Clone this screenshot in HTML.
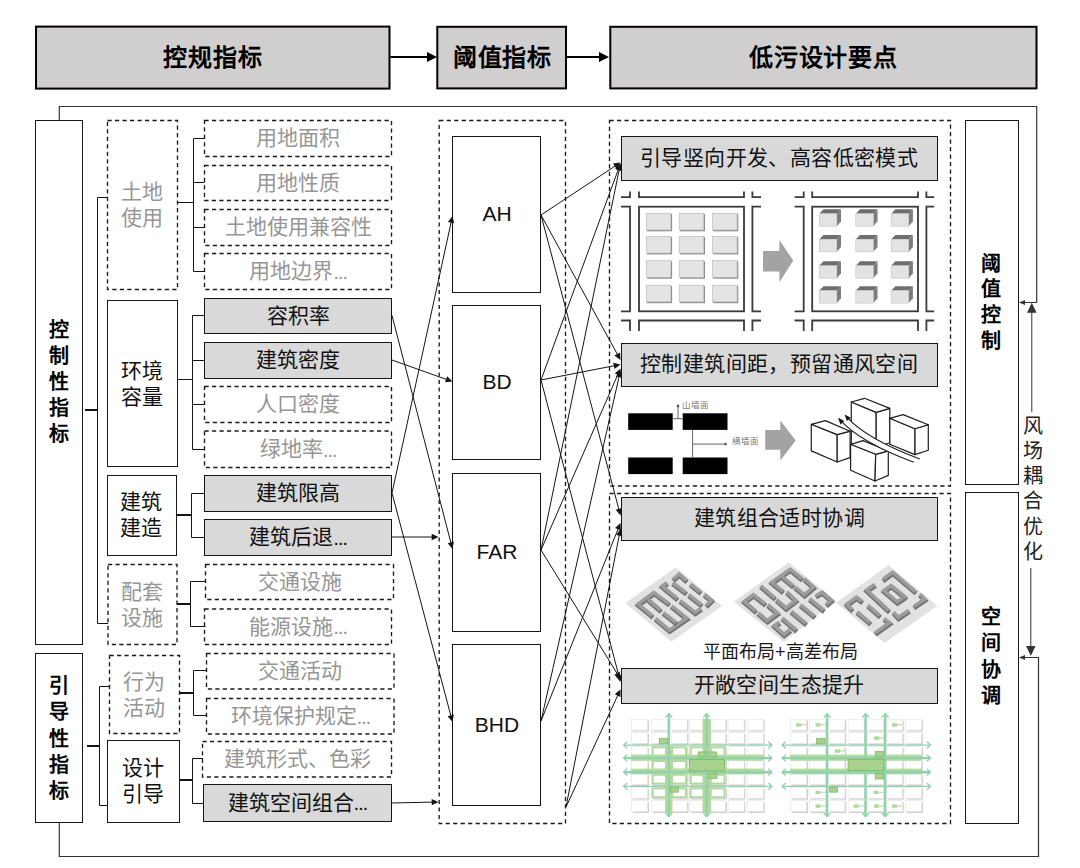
<!DOCTYPE html>
<html lang="zh-CN"><head><meta charset="utf-8"><title>diagram</title>
<style>
html,body{margin:0;padding:0;background:#fff;}
svg{display:block;font-family:'Liberation Sans', sans-serif;}
</style></head><body>
<svg width="1080" height="868" viewBox="0 0 1080 868">
<rect x="0" y="0" width="1080" height="868" fill="#fff"/>

<rect x="36" y="26.6" width="353.50" height="62.00" fill="#d0cece" stroke="#000" stroke-width="2" />
<rect x="437.3" y="26.8" width="128.70" height="61.60" fill="#d0cece" stroke="#000" stroke-width="2" />
<rect x="610.3" y="26.8" width="426.20" height="61.60" fill="#d0cece" stroke="#000" stroke-width="2" />
<line x1="390.5" y1="57" x2="428.00" y2="57.00" stroke="#000" stroke-width="2"/><polygon points="437,57 427.00,62.00 427.00,52.00" fill="#000"/>
<line x1="567" y1="57" x2="600.00" y2="57.00" stroke="#000" stroke-width="2"/><polygon points="609,57 599.00,62.00 599.00,52.00" fill="#000"/>
<text x="212.9" y="57" font-size="24" fill="#000" font-weight="bold" text-anchor="middle" dominant-baseline="central" letter-spacing="0.8">控规指标</text>
<text x="502.4" y="57" font-size="24" fill="#000" font-weight="bold" text-anchor="middle" dominant-baseline="central" letter-spacing="0.8">阈值指标</text>
<text x="823.4" y="57" font-size="24" fill="#000" font-weight="bold" text-anchor="middle" dominant-baseline="central" letter-spacing="0.8">低污设计要点</text>
<path d="M59.3,120.5 V106.5 H1036.7 V302.5 H1024" stroke="#333" stroke-width="1.2" fill="none" />
<line x1="1030" y1="302.5" x2="1024.00" y2="302.50" stroke="#333" stroke-width="1"/><polygon points="1019,302.5 1025.00,300.00 1025.00,305.00" fill="#333"/>
<path d="M59.3,822 V856.5 H1038.5 V657.5 H1024" stroke="#333" stroke-width="1.2" fill="none" />
<line x1="1030" y1="657.5" x2="1024.00" y2="657.50" stroke="#333" stroke-width="1"/><polygon points="1019,657.5 1025.00,655.00 1025.00,660.00" fill="#333"/>
<line x1="1031.8" y1="412" x2="1031.80" y2="311.80" stroke="#333" stroke-width="1"/><polygon points="1031.8,302.8 1036.55,312.80 1027.05,312.80" fill="#333"/>
<line x1="1030.8" y1="568" x2="1030.80" y2="647.00" stroke="#333" stroke-width="1"/><polygon points="1030.8,656 1026.05,646.00 1035.55,646.00" fill="#333"/>
<text x="1032.8" y="425.5" font-size="20" fill="#222" font-weight="normal" text-anchor="middle" dominant-baseline="central" >风</text>
<text x="1032.8" y="450.8" font-size="20" fill="#222" font-weight="normal" text-anchor="middle" dominant-baseline="central" >场</text>
<text x="1032.8" y="476.1" font-size="20" fill="#222" font-weight="normal" text-anchor="middle" dominant-baseline="central" >耦</text>
<text x="1032.8" y="501.4" font-size="20" fill="#222" font-weight="normal" text-anchor="middle" dominant-baseline="central" >合</text>
<text x="1032.8" y="526.7" font-size="20" fill="#222" font-weight="normal" text-anchor="middle" dominant-baseline="central" >优</text>
<text x="1032.8" y="552.0" font-size="20" fill="#222" font-weight="normal" text-anchor="middle" dominant-baseline="central" >化</text>
<rect x="35.5" y="120.5" width="47.00" height="524.00" fill="none" stroke="#151515" stroke-width="1" />
<rect x="35.5" y="653.5" width="47.00" height="169.00" fill="none" stroke="#151515" stroke-width="1" />
<text x="59" y="329.5" font-size="20" fill="#000" font-weight="bold" text-anchor="middle" dominant-baseline="central" >控</text>
<text x="59" y="355.6" font-size="20" fill="#000" font-weight="bold" text-anchor="middle" dominant-baseline="central" >制</text>
<text x="59" y="381.7" font-size="20" fill="#000" font-weight="bold" text-anchor="middle" dominant-baseline="central" >性</text>
<text x="59" y="407.8" font-size="20" fill="#000" font-weight="bold" text-anchor="middle" dominant-baseline="central" >指</text>
<text x="59" y="433.9" font-size="20" fill="#000" font-weight="bold" text-anchor="middle" dominant-baseline="central" >标</text>
<text x="59" y="686.3" font-size="20" fill="#000" font-weight="bold" text-anchor="middle" dominant-baseline="central" >引</text>
<text x="59" y="712.4" font-size="20" fill="#000" font-weight="bold" text-anchor="middle" dominant-baseline="central" >导</text>
<text x="59" y="738.5" font-size="20" fill="#000" font-weight="bold" text-anchor="middle" dominant-baseline="central" >性</text>
<text x="59" y="764.5999999999999" font-size="20" fill="#000" font-weight="bold" text-anchor="middle" dominant-baseline="central" >指</text>
<text x="59" y="790.6999999999999" font-size="20" fill="#000" font-weight="bold" text-anchor="middle" dominant-baseline="central" >标</text>
<rect x="107.5" y="120.5" width="70.00" height="169.00" fill="none" stroke="#1a1a1a" stroke-width="1.35" stroke-dasharray="4.2 3.3" />
<text x="141.7" y="191.7" font-size="21" fill="#969696" font-weight="normal" text-anchor="middle" dominant-baseline="central" >土地</text>
<text x="141.7" y="217.7" font-size="21" fill="#969696" font-weight="normal" text-anchor="middle" dominant-baseline="central" >使用</text>
<rect x="107.5" y="300.5" width="70.00" height="166.00" fill="none" stroke="#1a1a1a" stroke-width="1" />
<text x="141.7" y="370.2" font-size="21" fill="#111" font-weight="normal" text-anchor="middle" dominant-baseline="central" >环境</text>
<text x="141.7" y="396.2" font-size="21" fill="#111" font-weight="normal" text-anchor="middle" dominant-baseline="central" >容量</text>
<rect x="107.5" y="475.5" width="69.00" height="80.00" fill="none" stroke="#1a1a1a" stroke-width="1" />
<text x="140.95" y="501.95" font-size="21" fill="#111" font-weight="normal" text-anchor="middle" dominant-baseline="central" >建筑</text>
<text x="140.95" y="527.95" font-size="21" fill="#111" font-weight="normal" text-anchor="middle" dominant-baseline="central" >建造</text>
<rect x="108" y="564.5" width="69.00" height="80.00" fill="none" stroke="#1a1a1a" stroke-width="1.35" stroke-dasharray="4.2 3.3" />
<text x="141.7" y="591.2" font-size="21" fill="#969696" font-weight="normal" text-anchor="middle" dominant-baseline="central" >配套</text>
<text x="141.7" y="617.2" font-size="21" fill="#969696" font-weight="normal" text-anchor="middle" dominant-baseline="central" >设施</text>
<rect x="109.5" y="655.5" width="70.00" height="78.00" fill="none" stroke="#1a1a1a" stroke-width="1.35" stroke-dasharray="4.2 3.3" />
<text x="143.7" y="681.2" font-size="21" fill="#969696" font-weight="normal" text-anchor="middle" dominant-baseline="central" >行为</text>
<text x="143.7" y="707.2" font-size="21" fill="#969696" font-weight="normal" text-anchor="middle" dominant-baseline="central" >活动</text>
<rect x="107.5" y="740.5" width="72.00" height="82.00" fill="none" stroke="#1a1a1a" stroke-width="1" />
<text x="142.7" y="767.95" font-size="21" fill="#111" font-weight="normal" text-anchor="middle" dominant-baseline="central" >设计</text>
<text x="142.7" y="793.95" font-size="21" fill="#111" font-weight="normal" text-anchor="middle" dominant-baseline="central" >引导</text>
<rect x="204.5" y="120.5" width="187.00" height="36.00" fill="none" stroke="#1a1a1a" stroke-width="1.35" stroke-dasharray="4.2 3.3" />
<text x="298.0" y="137.9" font-size="21" fill="#969696" font-weight="normal" text-anchor="middle" dominant-baseline="central" >用地面积</text>
<rect x="204.5" y="165.5" width="187.00" height="35.00" fill="none" stroke="#1a1a1a" stroke-width="1.35" stroke-dasharray="4.2 3.3" />
<text x="298.0" y="182.4" font-size="21" fill="#969696" font-weight="normal" text-anchor="middle" dominant-baseline="central" >用地性质</text>
<rect x="204.5" y="209.5" width="187.00" height="36.00" fill="none" stroke="#1a1a1a" stroke-width="1.35" stroke-dasharray="4.2 3.3" />
<text x="298.0" y="226.9" font-size="21" fill="#969696" font-weight="normal" text-anchor="middle" dominant-baseline="central" >土地使用兼容性</text>
<rect x="204.5" y="253.5" width="187.00" height="36.00" fill="none" stroke="#1a1a1a" stroke-width="1.35" stroke-dasharray="4.2 3.3" />
<text x="298.0" y="270.9" font-size="21" fill="#969696" font-weight="normal" text-anchor="middle" dominant-baseline="central" >用地边界<tspan letter-spacing="-1.4">...</tspan></text>
<rect x="204.5" y="298.5" width="187.00" height="35.00" fill="#d9d9d9" stroke="#151515" stroke-width="1" />
<text x="298.0" y="315.4" font-size="21" fill="#111" font-weight="normal" text-anchor="middle" dominant-baseline="central" >容积率</text>
<rect x="204.5" y="342.5" width="187.00" height="36.00" fill="#d9d9d9" stroke="#151515" stroke-width="1" />
<text x="298.0" y="359.9" font-size="21" fill="#111" font-weight="normal" text-anchor="middle" dominant-baseline="central" >建筑密度</text>
<rect x="204.5" y="386.5" width="187.00" height="36.00" fill="none" stroke="#1a1a1a" stroke-width="1.35" stroke-dasharray="4.2 3.3" />
<text x="298.0" y="403.9" font-size="21" fill="#969696" font-weight="normal" text-anchor="middle" dominant-baseline="central" >人口密度</text>
<rect x="204.5" y="431" width="187.00" height="36.50" fill="none" stroke="#1a1a1a" stroke-width="1.35" stroke-dasharray="4.2 3.3" />
<text x="298.0" y="448.65" font-size="21" fill="#969696" font-weight="normal" text-anchor="middle" dominant-baseline="central" >绿地率<tspan letter-spacing="-1.4">...</tspan></text>
<rect x="204.5" y="475.5" width="187.00" height="36.00" fill="#d9d9d9" stroke="#151515" stroke-width="1" />
<text x="298.0" y="492.65" font-size="21" fill="#111" font-weight="normal" text-anchor="middle" dominant-baseline="central" >建筑限高</text>
<rect x="204.5" y="519.5" width="187.00" height="36.00" fill="#d9d9d9" stroke="#151515" stroke-width="1" />
<text x="298.0" y="536.65" font-size="21" fill="#111" font-weight="normal" text-anchor="middle" dominant-baseline="central" >建筑后退<tspan letter-spacing="-1.4">...</tspan></text>
<rect x="205.5" y="564.5" width="188.00" height="35.00" fill="none" stroke="#1a1a1a" stroke-width="1.35" stroke-dasharray="4.2 3.3" />
<text x="299.5" y="581.4" font-size="21" fill="#969696" font-weight="normal" text-anchor="middle" dominant-baseline="central" >交通设施</text>
<rect x="204.5" y="609" width="187.00" height="35.50" fill="none" stroke="#1a1a1a" stroke-width="1.35" stroke-dasharray="4.2 3.3" />
<text x="298.0" y="626.15" font-size="21" fill="#969696" font-weight="normal" text-anchor="middle" dominant-baseline="central" >能源设施<tspan letter-spacing="-1.4">...</tspan></text>
<rect x="206.5" y="653.5" width="187.50" height="35.50" fill="none" stroke="#1a1a1a" stroke-width="1.35" stroke-dasharray="4.2 3.3" />
<text x="300.25" y="670.65" font-size="21" fill="#969696" font-weight="normal" text-anchor="middle" dominant-baseline="central" >交通活动</text>
<rect x="206.5" y="698.5" width="187.50" height="35.50" fill="none" stroke="#1a1a1a" stroke-width="1.35" stroke-dasharray="4.2 3.3" />
<text x="300.25" y="715.65" font-size="21" fill="#969696" font-weight="normal" text-anchor="middle" dominant-baseline="central" >环境保护规定<tspan letter-spacing="-1.4">...</tspan></text>
<rect x="202.5" y="741.5" width="189.00" height="35.50" fill="none" stroke="#1a1a1a" stroke-width="1.35" stroke-dasharray="4.2 3.3" />
<text x="297.0" y="758.65" font-size="21" fill="#969696" font-weight="normal" text-anchor="middle" dominant-baseline="central" >建筑形式、色彩</text>
<rect x="203.5" y="784.5" width="188.00" height="37.00" fill="#d9d9d9" stroke="#151515" stroke-width="1" />
<text x="297.25" y="802.15" font-size="21" fill="#111" font-weight="normal" text-anchor="middle" dominant-baseline="central" >建筑空间组合<tspan letter-spacing="-1.4">...</tspan></text>
<path d="M177.5,202.5 H193.5" stroke="#151515" stroke-width="1" fill="none" /><path d="M204.5,138.5 H193.5 V271.5 H204.5" stroke="#151515" stroke-width="1" fill="none" /><path d="M193.5,182.5 H204.5" stroke="#151515" stroke-width="1" fill="none" /><path d="M193.5,227.5 H204.5" stroke="#151515" stroke-width="1" fill="none" />
<path d="M177.5,379.5 H192.5" stroke="#151515" stroke-width="1" fill="none" /><path d="M204.5,315.5 H192.5 V449.5 H204.5" stroke="#151515" stroke-width="1" fill="none" /><path d="M192.5,360.5 H204.5" stroke="#151515" stroke-width="1" fill="none" /><path d="M192.5,404.5 H204.5" stroke="#151515" stroke-width="1" fill="none" />
<path d="M176,515 H191.5" stroke="#151515" stroke-width="2" fill="none" /><path d="M204.5,493.5 H191.5 V537.5 H204.5" stroke="#151515" stroke-width="1" fill="none" />
<path d="M177,604 H190.5" stroke="#151515" stroke-width="2" fill="none" /><path d="M205.5,581.5 H190.5 V626.5 H205.5" stroke="#151515" stroke-width="1" fill="none" />
<path d="M180,693 H193.5" stroke="#151515" stroke-width="2" fill="none" /><path d="M206.5,670.5 H193.5 V715.5 H206.5" stroke="#151515" stroke-width="1" fill="none" />
<path d="M180,780 H192.5" stroke="#151515" stroke-width="2" fill="none" /><path d="M203,758.5 H192.5 V803.5 H203" stroke="#151515" stroke-width="1" fill="none" />
<path d="M85,410 H97.5" stroke="#151515" stroke-width="2" fill="none" />
<path d="M107.5,197.5 H97.5 V623.5 H108" stroke="#151515" stroke-width="1" fill="none" />
<path d="M87,746 H99.5" stroke="#151515" stroke-width="2" fill="none" />
<path d="M109.5,686.5 H99.5 V805.5 H107.5" stroke="#151515" stroke-width="1" fill="none" />
<rect x="439.2" y="120.5" width="126.30" height="703.00" fill="none" stroke="#1a1a1a" stroke-width="1.35" stroke-dasharray="4.2 3.3" />
<rect x="452.5" y="136.5" width="88.00" height="156.00" fill="none" stroke="#151515" stroke-width="1" />
<text x="497" y="213.7" font-size="21" fill="#111" font-weight="normal" text-anchor="middle" dominant-baseline="central" >AH</text>
<rect x="452.5" y="305.5" width="88.00" height="154.00" fill="none" stroke="#151515" stroke-width="1" />
<text x="497" y="381.9" font-size="21" fill="#111" font-weight="normal" text-anchor="middle" dominant-baseline="central" >BD</text>
<rect x="452.5" y="473.5" width="88.00" height="158.00" fill="none" stroke="#151515" stroke-width="1" />
<text x="497" y="551.5" font-size="21" fill="#111" font-weight="normal" text-anchor="middle" dominant-baseline="central" >FAR</text>
<rect x="452.5" y="644.5" width="88.00" height="161.00" fill="none" stroke="#151515" stroke-width="1" />
<text x="497" y="724.4000000000001" font-size="21" fill="#111" font-weight="normal" text-anchor="middle" dominant-baseline="central" >BHD</text>
<line x1="392" y1="315.5" x2="451.05" y2="543.39" stroke="#151515" stroke-width="1"/><polygon points="452.5,549 447.70,543.22 453.89,541.61" fill="#151515"/>
<line x1="392" y1="360" x2="447.04" y2="379.65" stroke="#151515" stroke-width="1"/><polygon points="452.5,381.6 445.02,382.33 447.17,376.30" fill="#151515"/>
<line x1="392" y1="493" x2="451.26" y2="221.67" stroke="#151515" stroke-width="1"/><polygon points="452.5,216 454.18,223.33 447.92,221.96" fill="#151515"/>
<line x1="392" y1="493" x2="451.02" y2="716.39" stroke="#151515" stroke-width="1"/><polygon points="452.5,722 447.67,716.24 453.86,714.61" fill="#151515"/>
<line x1="392" y1="537" x2="432.70" y2="537.00" stroke="#151515" stroke-width="1"/><polygon points="438.5,537 431.70,540.20 431.70,533.80" fill="#151515"/>
<line x1="391.5" y1="803" x2="432.70" y2="802.12" stroke="#151515" stroke-width="1"/><polygon points="438.5,802 431.77,805.34 431.63,798.95" fill="#151515"/>
<rect x="609.5" y="120.5" width="341.00" height="365.50" fill="none" stroke="#1a1a1a" stroke-width="1.35" stroke-dasharray="4.2 3.3" />
<rect x="609.5" y="493.5" width="341.00" height="330.00" fill="none" stroke="#1a1a1a" stroke-width="1.35" stroke-dasharray="4.2 3.3" />
<rect x="621.5" y="136.5" width="316.00" height="44.00" fill="#d9d9d9" stroke="#151515" stroke-width="1" />
<text x="779.2" y="157.3" font-size="21" fill="#111" font-weight="normal" text-anchor="middle" dominant-baseline="central" letter-spacing="0.4">引导竖向开发、高容低密模式</text>
<rect x="621.5" y="343.5" width="316.00" height="43.00" fill="#d9d9d9" stroke="#151515" stroke-width="1" />
<text x="779.2" y="363.65000000000003" font-size="21" fill="#111" font-weight="normal" text-anchor="middle" dominant-baseline="central" letter-spacing="0.4">控制建筑间距，预留通风空间</text>
<rect x="621.5" y="497.5" width="316.00" height="43.00" fill="#d9d9d9" stroke="#151515" stroke-width="1" />
<text x="779.45" y="517.75" font-size="21" fill="#111" font-weight="normal" text-anchor="middle" dominant-baseline="central" letter-spacing="0.4">建筑组合适时协调</text>
<rect x="621.5" y="668.5" width="316.00" height="35.00" fill="#d9d9d9" stroke="#151515" stroke-width="1" />
<text x="779.2" y="684.5" font-size="21" fill="#111" font-weight="normal" text-anchor="middle" dominant-baseline="central" letter-spacing="0.4">开敞空间生态提升</text>
<rect x="965.5" y="120.5" width="53.00" height="364.00" fill="none" stroke="#151515" stroke-width="1" />
<rect x="965.5" y="492.5" width="53.00" height="331.00" fill="none" stroke="#151515" stroke-width="1" />
<text x="991" y="263.5" font-size="20" fill="#000" font-weight="bold" text-anchor="middle" dominant-baseline="central" >阈</text>
<text x="991" y="289.3" font-size="20" fill="#000" font-weight="bold" text-anchor="middle" dominant-baseline="central" >值</text>
<text x="991" y="315.1" font-size="20" fill="#000" font-weight="bold" text-anchor="middle" dominant-baseline="central" >控</text>
<text x="991" y="340.9" font-size="20" fill="#000" font-weight="bold" text-anchor="middle" dominant-baseline="central" >制</text>
<text x="990.8" y="617.4" font-size="20" fill="#000" font-weight="bold" text-anchor="middle" dominant-baseline="central" >空</text>
<text x="990.8" y="643.4499999999999" font-size="20" fill="#000" font-weight="bold" text-anchor="middle" dominant-baseline="central" >间</text>
<text x="990.8" y="669.5" font-size="20" fill="#000" font-weight="bold" text-anchor="middle" dominant-baseline="central" >协</text>
<text x="990.8" y="695.55" font-size="20" fill="#000" font-weight="bold" text-anchor="middle" dominant-baseline="central" >调</text>
<line x1="541" y1="215" x2="615.66" y2="165.70" stroke="#151515" stroke-width="1"/><polygon points="620.5,162.5 616.59,168.92 613.06,163.58" fill="#151515"/>
<line x1="541" y1="215" x2="617.71" y2="354.91" stroke="#151515" stroke-width="1"/><polygon points="620.5,360 614.42,355.58 620.04,352.50" fill="#151515"/>
<line x1="541" y1="215" x2="619.02" y2="509.89" stroke="#151515" stroke-width="1"/><polygon points="620.5,515.5 615.67,509.74 621.85,508.11" fill="#151515"/>
<line x1="541" y1="380" x2="618.50" y2="168.94" stroke="#151515" stroke-width="1"/><polygon points="620.5,163.5 621.16,170.99 615.15,168.78" fill="#151515"/>
<line x1="541" y1="380" x2="614.81" y2="365.61" stroke="#151515" stroke-width="1"/><polygon points="620.5,364.5 614.44,368.94 613.21,362.66" fill="#151515"/>
<line x1="541" y1="380" x2="619.02" y2="676.39" stroke="#151515" stroke-width="1"/><polygon points="620.5,682 615.67,676.24 621.86,674.61" fill="#151515"/>
<line x1="541" y1="550" x2="619.33" y2="169.18" stroke="#151515" stroke-width="1"/><polygon points="620.5,163.5 622.26,170.81 616.00,169.52" fill="#151515"/>
<line x1="541" y1="550" x2="618.17" y2="373.81" stroke="#151515" stroke-width="1"/><polygon points="620.5,368.5 620.70,376.01 614.84,373.44" fill="#151515"/>
<line x1="541" y1="550" x2="617.46" y2="674.06" stroke="#151515" stroke-width="1"/><polygon points="620.5,679 614.21,674.89 619.66,671.53" fill="#151515"/>
<line x1="541" y1="721" x2="619.22" y2="376.16" stroke="#151515" stroke-width="1"/><polygon points="620.5,370.5 622.12,377.84 615.88,376.42" fill="#151515"/>
<line x1="541" y1="721" x2="618.34" y2="528.38" stroke="#151515" stroke-width="1"/><polygon points="620.5,523 620.94,530.50 615.00,528.12" fill="#151515"/>
<line x1="566" y1="807" x2="619.38" y2="534.69" stroke="#151515" stroke-width="1"/><polygon points="620.5,529 622.33,536.29 616.05,535.06" fill="#151515"/>
<line x1="566" y1="807" x2="618.06" y2="694.76" stroke="#151515" stroke-width="1"/><polygon points="620.5,689.5 620.54,697.02 614.74,694.32" fill="#151515"/>
<rect x="639" y="206.7" width="105.0" height="104.6" fill="none" stroke="#3a3a3a" stroke-width="1.8"/><path d="M639,191.6 V197.2 H744 V191.6 M639,330.9 V320.5 H744 V330.9" fill="none" stroke="#3a3a3a" stroke-width="1.8"/><path d="M621,206.7 H630 V311.3 H621 M621,197.2 H630 V191.6 M621,320.5 H630 V330.9" fill="none" stroke="#3a3a3a" stroke-width="1.8"/><path d="M761,206.7 H752.4 V311.3 H761 M761,197.2 H752.4 V191.6 M761,320.5 H752.4 V330.9" fill="none" stroke="#3a3a3a" stroke-width="1.8"/>
<rect x="812.2" y="206.7" width="105.8" height="104.6" fill="none" stroke="#3a3a3a" stroke-width="1.8"/><path d="M812.2,191.6 V197.2 H918 V191.6 M812.2,330.9 V320.5 H918 V330.9" fill="none" stroke="#3a3a3a" stroke-width="1.8"/><path d="M794.6,206.7 H803.7 V311.3 H794.6 M794.6,197.2 H803.7 V191.6 M794.6,320.5 H803.7 V330.9" fill="none" stroke="#3a3a3a" stroke-width="1.8"/><path d="M934.2,206.7 H926.4 V311.3 H934.2 M934.2,197.2 H926.4 V191.6 M934.2,320.5 H926.4 V330.9" fill="none" stroke="#3a3a3a" stroke-width="1.8"/>
<rect x="647.0999999999999" y="214.0" width="25" height="17.3" fill="#8a8a8a"/>
<rect x="646.3" y="213.2" width="24.6" height="16.8" fill="#e4e4e4" stroke="#b5b5b5" stroke-width="0.6"/>
<rect x="647.0999999999999" y="237.10000000000002" width="25" height="17.3" fill="#8a8a8a"/>
<rect x="646.3" y="236.3" width="24.6" height="16.8" fill="#e4e4e4" stroke="#b5b5b5" stroke-width="0.6"/>
<rect x="647.0999999999999" y="261.40000000000003" width="25" height="17.3" fill="#8a8a8a"/>
<rect x="646.3" y="260.6" width="24.6" height="16.8" fill="#e4e4e4" stroke="#b5b5b5" stroke-width="0.6"/>
<rect x="647.0999999999999" y="285.90000000000003" width="25" height="17.3" fill="#8a8a8a"/>
<rect x="646.3" y="285.1" width="24.6" height="16.8" fill="#e4e4e4" stroke="#b5b5b5" stroke-width="0.6"/>
<rect x="680.0" y="214.0" width="25" height="17.3" fill="#8a8a8a"/>
<rect x="679.2" y="213.2" width="24.6" height="16.8" fill="#e4e4e4" stroke="#b5b5b5" stroke-width="0.6"/>
<rect x="680.0" y="237.10000000000002" width="25" height="17.3" fill="#8a8a8a"/>
<rect x="679.2" y="236.3" width="24.6" height="16.8" fill="#e4e4e4" stroke="#b5b5b5" stroke-width="0.6"/>
<rect x="680.0" y="261.40000000000003" width="25" height="17.3" fill="#8a8a8a"/>
<rect x="679.2" y="260.6" width="24.6" height="16.8" fill="#e4e4e4" stroke="#b5b5b5" stroke-width="0.6"/>
<rect x="680.0" y="285.90000000000003" width="25" height="17.3" fill="#8a8a8a"/>
<rect x="679.2" y="285.1" width="24.6" height="16.8" fill="#e4e4e4" stroke="#b5b5b5" stroke-width="0.6"/>
<rect x="713.3" y="214.0" width="25" height="17.3" fill="#8a8a8a"/>
<rect x="712.5" y="213.2" width="24.6" height="16.8" fill="#e4e4e4" stroke="#b5b5b5" stroke-width="0.6"/>
<rect x="713.3" y="237.10000000000002" width="25" height="17.3" fill="#8a8a8a"/>
<rect x="712.5" y="236.3" width="24.6" height="16.8" fill="#e4e4e4" stroke="#b5b5b5" stroke-width="0.6"/>
<rect x="713.3" y="261.40000000000003" width="25" height="17.3" fill="#8a8a8a"/>
<rect x="712.5" y="260.6" width="24.6" height="16.8" fill="#e4e4e4" stroke="#b5b5b5" stroke-width="0.6"/>
<rect x="713.3" y="285.90000000000003" width="25" height="17.3" fill="#8a8a8a"/>
<rect x="712.5" y="285.1" width="24.6" height="16.8" fill="#e4e4e4" stroke="#b5b5b5" stroke-width="0.6"/>
<polygon points="819.3,213.7 823.5,209.3 841.0,209.3 836.8,213.7" fill="#6e6e6e" stroke="none" stroke-width="1" stroke-linejoin="round" />
<polygon points="836.8,213.7 841.0,209.3 841.0,221.3 836.8,226.2" fill="#7c7c7c" stroke="none" stroke-width="1" stroke-linejoin="round" />
<rect x="819.3" y="213.7" width="17.5" height="12.5" fill="#e3e3e3" stroke="#c2c2c2" stroke-width="0.6"/>
<polygon points="819.3,239.3 823.5,234.9 841.0,234.9 836.8,239.3" fill="#6e6e6e" stroke="none" stroke-width="1" stroke-linejoin="round" />
<polygon points="836.8,239.3 841.0,234.9 841.0,246.9 836.8,251.8" fill="#7c7c7c" stroke="none" stroke-width="1" stroke-linejoin="round" />
<rect x="819.3" y="239.3" width="17.5" height="12.5" fill="#e3e3e3" stroke="#c2c2c2" stroke-width="0.6"/>
<polygon points="819.3,265.7 823.5,261.3 841.0,261.3 836.8,265.7" fill="#6e6e6e" stroke="none" stroke-width="1" stroke-linejoin="round" />
<polygon points="836.8,265.7 841.0,261.3 841.0,273.3 836.8,278.2" fill="#7c7c7c" stroke="none" stroke-width="1" stroke-linejoin="round" />
<rect x="819.3" y="265.7" width="17.5" height="12.5" fill="#e3e3e3" stroke="#c2c2c2" stroke-width="0.6"/>
<polygon points="819.3,290.6 823.5,286.2 841.0,286.2 836.8,290.6" fill="#6e6e6e" stroke="none" stroke-width="1" stroke-linejoin="round" />
<polygon points="836.8,290.6 841.0,286.2 841.0,298.2 836.8,303.1" fill="#7c7c7c" stroke="none" stroke-width="1" stroke-linejoin="round" />
<rect x="819.3" y="290.6" width="17.5" height="12.5" fill="#e3e3e3" stroke="#c2c2c2" stroke-width="0.6"/>
<polygon points="855.8,213.7 860.0,209.3 877.5,209.3 873.3,213.7" fill="#6e6e6e" stroke="none" stroke-width="1" stroke-linejoin="round" />
<polygon points="873.3,213.7 877.5,209.3 877.5,221.3 873.3,226.2" fill="#7c7c7c" stroke="none" stroke-width="1" stroke-linejoin="round" />
<rect x="855.8" y="213.7" width="17.5" height="12.5" fill="#e3e3e3" stroke="#c2c2c2" stroke-width="0.6"/>
<polygon points="855.8,239.3 860.0,234.9 877.5,234.9 873.3,239.3" fill="#6e6e6e" stroke="none" stroke-width="1" stroke-linejoin="round" />
<polygon points="873.3,239.3 877.5,234.9 877.5,246.9 873.3,251.8" fill="#7c7c7c" stroke="none" stroke-width="1" stroke-linejoin="round" />
<rect x="855.8" y="239.3" width="17.5" height="12.5" fill="#e3e3e3" stroke="#c2c2c2" stroke-width="0.6"/>
<polygon points="855.8,265.7 860.0,261.3 877.5,261.3 873.3,265.7" fill="#6e6e6e" stroke="none" stroke-width="1" stroke-linejoin="round" />
<polygon points="873.3,265.7 877.5,261.3 877.5,273.3 873.3,278.2" fill="#7c7c7c" stroke="none" stroke-width="1" stroke-linejoin="round" />
<rect x="855.8" y="265.7" width="17.5" height="12.5" fill="#e3e3e3" stroke="#c2c2c2" stroke-width="0.6"/>
<polygon points="855.8,290.6 860.0,286.2 877.5,286.2 873.3,290.6" fill="#6e6e6e" stroke="none" stroke-width="1" stroke-linejoin="round" />
<polygon points="873.3,290.6 877.5,286.2 877.5,298.2 873.3,303.1" fill="#7c7c7c" stroke="none" stroke-width="1" stroke-linejoin="round" />
<rect x="855.8" y="290.6" width="17.5" height="12.5" fill="#e3e3e3" stroke="#c2c2c2" stroke-width="0.6"/>
<polygon points="891.2,213.7 895.4,209.3 912.9,209.3 908.7,213.7" fill="#6e6e6e" stroke="none" stroke-width="1" stroke-linejoin="round" />
<polygon points="908.7,213.7 912.9,209.3 912.9,221.3 908.7,226.2" fill="#7c7c7c" stroke="none" stroke-width="1" stroke-linejoin="round" />
<rect x="891.2" y="213.7" width="17.5" height="12.5" fill="#e3e3e3" stroke="#c2c2c2" stroke-width="0.6"/>
<polygon points="891.2,239.3 895.4,234.9 912.9,234.9 908.7,239.3" fill="#6e6e6e" stroke="none" stroke-width="1" stroke-linejoin="round" />
<polygon points="908.7,239.3 912.9,234.9 912.9,246.9 908.7,251.8" fill="#7c7c7c" stroke="none" stroke-width="1" stroke-linejoin="round" />
<rect x="891.2" y="239.3" width="17.5" height="12.5" fill="#e3e3e3" stroke="#c2c2c2" stroke-width="0.6"/>
<polygon points="891.2,265.7 895.4,261.3 912.9,261.3 908.7,265.7" fill="#6e6e6e" stroke="none" stroke-width="1" stroke-linejoin="round" />
<polygon points="908.7,265.7 912.9,261.3 912.9,273.3 908.7,278.2" fill="#7c7c7c" stroke="none" stroke-width="1" stroke-linejoin="round" />
<rect x="891.2" y="265.7" width="17.5" height="12.5" fill="#e3e3e3" stroke="#c2c2c2" stroke-width="0.6"/>
<polygon points="891.2,290.6 895.4,286.2 912.9,286.2 908.7,290.6" fill="#6e6e6e" stroke="none" stroke-width="1" stroke-linejoin="round" />
<polygon points="908.7,290.6 912.9,286.2 912.9,298.2 908.7,303.1" fill="#7c7c7c" stroke="none" stroke-width="1" stroke-linejoin="round" />
<rect x="891.2" y="290.6" width="17.5" height="12.5" fill="#e3e3e3" stroke="#c2c2c2" stroke-width="0.6"/>
<polygon points="763.0,251.0 779.4,251.0 779.4,240.0 793.2,260.5 779.4,282.3 779.4,271.6 763.0,271.6" fill="#a3a3a3" stroke="none" stroke-width="1" stroke-linejoin="round" />
<rect x="628.2" y="413.3" width="44.5" height="16.6" fill="#000"/>
<rect x="628.2" y="457.5" width="44.5" height="16.6" fill="#000"/>
<rect x="682.7" y="413.3" width="44.8" height="16.6" fill="#000"/>
<rect x="682.7" y="457.5" width="44.8" height="16.6" fill="#000"/>
<path d="M672.7,418.7 H682.7 M678,418.7 V406 M692.6,429.9 V457.5 M692.6,444.1 H725.5" stroke="#555" stroke-width="0.9" fill="none"/>
<circle cx="678" cy="405.9" r="1.3" fill="#555"/><circle cx="725.5" cy="444.1" r="1.3" fill="#555"/>
<text x="682.3" y="404.5" font-size="8.5" fill="#777" dominant-baseline="central">山墙面</text>
<text x="732" y="441" font-size="8.5" fill="#777" dominant-baseline="central">横墙面</text>
<polygon points="765.2,429.9 780.3,429.9 780.3,420.6 795.7,440.5 780.3,460.4 780.3,449.7 765.2,449.7" fill="#a3a3a3" stroke="none" stroke-width="1" stroke-linejoin="round" />
<polygon points="851.3,402.0 876.2,412.4 876.2,447.2 851.3,444.3" fill="#fff" stroke="#1e1e1e" stroke-width="1.2" stroke-linejoin="round" /><polygon points="876.2,412.4 889.8,408.4 889.8,442.8 876.2,447.2" fill="#fff" stroke="#1e1e1e" stroke-width="1.2" stroke-linejoin="round" /><polygon points="851.3,402.0 864.6,398.3 889.8,408.4 876.2,412.4" fill="#fff" stroke="#1e1e1e" stroke-width="1.2" stroke-linejoin="round" />
<polygon points="889.8,418.3 915.0,428.7 915.0,454.6 889.8,444.3" fill="#fff" stroke="#1e1e1e" stroke-width="1.2" stroke-linejoin="round" /><polygon points="915.0,428.7 928.3,424.7 928.3,450.2 915.0,454.6" fill="#fff" stroke="#1e1e1e" stroke-width="1.2" stroke-linejoin="round" /><polygon points="889.8,418.3 903.1,414.6 928.3,424.7 915.0,428.7" fill="#fff" stroke="#1e1e1e" stroke-width="1.2" stroke-linejoin="round" />
<polygon points="811.3,424.3 837.2,434.6 837.2,462.0 811.3,450.9" fill="#fff" stroke="#1e1e1e" stroke-width="1.2" stroke-linejoin="round" /><polygon points="837.2,434.6 850.1,431.2 850.1,457.6 837.2,462.0" fill="#fff" stroke="#1e1e1e" stroke-width="1.2" stroke-linejoin="round" /><polygon points="811.3,424.3 825.4,420.6 850.1,431.2 837.2,434.6" fill="#fff" stroke="#1e1e1e" stroke-width="1.2" stroke-linejoin="round" />
<polygon points="850.6,444.3 875.7,454.3 875.0,481.0 850.6,470.2" fill="#fff" stroke="#1e1e1e" stroke-width="1.2" stroke-linejoin="round" /><polygon points="875.7,454.3 888.3,450.9 888.3,475.4 875.0,481.0" fill="#fff" stroke="#1e1e1e" stroke-width="1.2" stroke-linejoin="round" /><polygon points="850.6,444.3 863.1,440.6 888.3,450.9 875.7,454.3" fill="#fff" stroke="#1e1e1e" stroke-width="1.2" stroke-linejoin="round" />
<path d="M919.8,459.1 Q865.55,438.4 846.7,416.9 L840.2,420.2 Q860.8,442.55 913.8,462.3 Z" fill="#fff" stroke="none"/>
<path d="M919.8,459.1 Q865.5,438.4 846.7,416.9" stroke="#1e1e1e" stroke-width="1.1" fill="none"/>
<polygon points="844.6,414.5 850.8,417.7 846.9,421.1" fill="#111" stroke="none" stroke-width="1" stroke-linejoin="round" />
<path d="M913.8,462.3 Q860.8,442.6 840.2,420.2" stroke="#1e1e1e" stroke-width="1.1" fill="none"/>
<polygon points="838.0,417.8 844.3,420.9 840.5,424.4" fill="#111" stroke="none" stroke-width="1" stroke-linejoin="round" />
<polygon points="625.4,603.1 675.7,567.3 722.1,606.0 671.3,641.8" fill="#e2e2e2" stroke="none" stroke-width="1" stroke-linejoin="round" />
<path d="M651.0,614.7 L638.0,604.1 L653.9,592.5 L667.5,602.6" stroke="#727272" stroke-width="4.6" fill="none" stroke-linejoin="miter" stroke-linecap="square" transform="translate(0.3,1.5)"/>
<path d="M651.0,614.7 L638.0,604.1 L653.9,592.5 L667.5,602.6" stroke="#9c9c9c" stroke-width="3.6" fill="none" stroke-linejoin="miter" stroke-linecap="square"/>
<path d="M649.6,600.7 L659.2,608.9" stroke="#727272" stroke-width="4.6" fill="none" stroke-linejoin="miter" stroke-linecap="square" transform="translate(0.3,1.5)"/>
<path d="M649.6,600.7 L659.2,608.9" stroke="#9c9c9c" stroke-width="3.6" fill="none" stroke-linejoin="miter" stroke-linecap="square"/>
<path d="M665.5,583.8 L662.1,586.2 L675.7,597.3" stroke="#727272" stroke-width="4.6" fill="none" stroke-linejoin="miter" stroke-linecap="square" transform="translate(0.3,1.5)"/>
<path d="M665.5,583.8 L662.1,586.2 L675.7,597.3" stroke="#9c9c9c" stroke-width="3.6" fill="none" stroke-linejoin="miter" stroke-linecap="square"/>
<path d="M674.7,578.0 L679.1,574.1 L684.9,579.2" stroke="#727272" stroke-width="4.6" fill="none" stroke-linejoin="miter" stroke-linecap="square" transform="translate(0.3,1.5)"/>
<path d="M674.7,578.0 L679.1,574.1 L684.9,579.2" stroke="#9c9c9c" stroke-width="3.6" fill="none" stroke-linejoin="miter" stroke-linecap="square"/>
<path d="M674.2,583.8 L684.4,591.5" stroke="#727272" stroke-width="4.6" fill="none" stroke-linejoin="miter" stroke-linecap="square" transform="translate(0.3,1.5)"/>
<path d="M674.2,583.8 L684.4,591.5" stroke="#9c9c9c" stroke-width="3.6" fill="none" stroke-linejoin="miter" stroke-linecap="square"/>
<path d="M691.8,585.2 L698.9,590.8" stroke="#727272" stroke-width="4.6" fill="none" stroke-linejoin="miter" stroke-linecap="square" transform="translate(0.3,1.5)"/>
<path d="M691.8,585.2 L698.9,590.8" stroke="#9c9c9c" stroke-width="3.6" fill="none" stroke-linejoin="miter" stroke-linecap="square"/>
<path d="M690.2,595.8 L699.9,603.6" stroke="#727272" stroke-width="4.6" fill="none" stroke-linejoin="miter" stroke-linecap="square" transform="translate(0.3,1.5)"/>
<path d="M690.2,595.8 L699.9,603.6" stroke="#9c9c9c" stroke-width="3.6" fill="none" stroke-linejoin="miter" stroke-linecap="square"/>
<path d="M681.5,601.7 L695.0,612.3 L699.4,609.4" stroke="#727272" stroke-width="4.6" fill="none" stroke-linejoin="miter" stroke-linecap="square" transform="translate(0.3,1.5)"/>
<path d="M681.5,601.7 L695.0,612.3 L699.4,609.4" stroke="#9c9c9c" stroke-width="3.6" fill="none" stroke-linejoin="miter" stroke-linecap="square"/>
<path d="M705.7,595.4 L711.5,600.2 L707.6,604.1" stroke="#727272" stroke-width="4.6" fill="none" stroke-linejoin="miter" stroke-linecap="square" transform="translate(0.3,1.5)"/>
<path d="M705.7,595.4 L711.5,600.2 L707.6,604.1" stroke="#9c9c9c" stroke-width="3.6" fill="none" stroke-linejoin="miter" stroke-linecap="square"/>
<path d="M672.8,607.0 L686.8,618.1 L669.4,630.2 L656.8,619.5" stroke="#727272" stroke-width="4.6" fill="none" stroke-linejoin="miter" stroke-linecap="square" transform="translate(0.3,1.5)"/>
<path d="M672.8,607.0 L686.8,618.1 L669.4,630.2 L656.8,619.5" stroke="#9c9c9c" stroke-width="3.6" fill="none" stroke-linejoin="miter" stroke-linecap="square"/>
<path d="M664.6,613.7 L674.7,621.5" stroke="#727272" stroke-width="4.6" fill="none" stroke-linejoin="miter" stroke-linecap="square" transform="translate(0.3,1.5)"/>
<path d="M664.6,613.7 L674.7,621.5" stroke="#9c9c9c" stroke-width="3.6" fill="none" stroke-linejoin="miter" stroke-linecap="square"/>
<polygon points="733.6,601.8 788.6,562.6 835.9,600.8 784.0,642.0" fill="#e2e2e2" stroke="none" stroke-width="1" stroke-linejoin="round" />
<path d="M754.4,609.9 L744.3,601.3 L753.4,594.7 L763.6,602.8" stroke="#727272" stroke-width="4.6" fill="none" stroke-linejoin="miter" stroke-linecap="square" transform="translate(0.3,1.5)"/>
<path d="M754.4,609.9 L744.3,601.3 L753.4,594.7 L763.6,602.8" stroke="#9c9c9c" stroke-width="3.6" fill="none" stroke-linejoin="miter" stroke-linecap="square"/>
<path d="M769.2,605.9 L777.4,613.0 L767.2,620.6 L759.5,614.0" stroke="#727272" stroke-width="4.6" fill="none" stroke-linejoin="miter" stroke-linecap="square" transform="translate(0.3,1.5)"/>
<path d="M769.2,605.9 L777.4,613.0 L767.2,620.6 L759.5,614.0" stroke="#9c9c9c" stroke-width="3.6" fill="none" stroke-linejoin="miter" stroke-linecap="square"/>
<path d="M762.1,587.0 L773.3,596.7" stroke="#727272" stroke-width="4.6" fill="none" stroke-linejoin="miter" stroke-linecap="square" transform="translate(0.3,1.5)"/>
<path d="M762.1,587.0 L773.3,596.7" stroke="#9c9c9c" stroke-width="3.6" fill="none" stroke-linejoin="miter" stroke-linecap="square"/>
<path d="M781.4,590.1 L771.8,582.4 L790.1,569.2 L800.3,577.4" stroke="#727272" stroke-width="4.6" fill="none" stroke-linejoin="miter" stroke-linecap="square" transform="translate(0.3,1.5)"/>
<path d="M781.4,590.1 L771.8,582.4 L790.1,569.2 L800.3,577.4" stroke="#9c9c9c" stroke-width="3.6" fill="none" stroke-linejoin="miter" stroke-linecap="square"/>
<path d="M783.0,577.4 L791.6,584.5" stroke="#727272" stroke-width="4.6" fill="none" stroke-linejoin="miter" stroke-linecap="square" transform="translate(0.3,1.5)"/>
<path d="M783.0,577.4 L791.6,584.5" stroke="#9c9c9c" stroke-width="3.6" fill="none" stroke-linejoin="miter" stroke-linecap="square"/>
<path d="M805.4,579.9 L813.5,587.0 L804.4,594.7 L796.2,588.0" stroke="#727272" stroke-width="4.6" fill="none" stroke-linejoin="miter" stroke-linecap="square" transform="translate(0.3,1.5)"/>
<path d="M805.4,579.9 L813.5,587.0 L804.4,594.7 L796.2,588.0" stroke="#9c9c9c" stroke-width="3.6" fill="none" stroke-linejoin="miter" stroke-linecap="square"/>
<path d="M788.1,593.1 L795.7,600.3 L786.0,607.9 L777.9,600.8" stroke="#727272" stroke-width="4.6" fill="none" stroke-linejoin="miter" stroke-linecap="square" transform="translate(0.3,1.5)"/>
<path d="M788.1,593.1 L795.7,600.3 L786.0,607.9 L777.9,600.8" stroke="#9c9c9c" stroke-width="3.6" fill="none" stroke-linejoin="miter" stroke-linecap="square"/>
<path d="M811.0,599.8 L822.2,608.9" stroke="#727272" stroke-width="4.6" fill="none" stroke-linejoin="miter" stroke-linecap="square" transform="translate(0.3,1.5)"/>
<path d="M811.0,599.8 L822.2,608.9" stroke="#9c9c9c" stroke-width="3.6" fill="none" stroke-linejoin="miter" stroke-linecap="square"/>
<path d="M817.6,594.7 L822.2,592.1 L831.3,600.3 L827.8,603.3" stroke="#727272" stroke-width="4.6" fill="none" stroke-linejoin="miter" stroke-linecap="square" transform="translate(0.3,1.5)"/>
<path d="M817.6,594.7 L822.2,592.1 L831.3,600.3 L827.8,603.3" stroke="#9c9c9c" stroke-width="3.6" fill="none" stroke-linejoin="miter" stroke-linecap="square"/>
<path d="M801.8,605.9 L813.0,615.0" stroke="#727272" stroke-width="4.6" fill="none" stroke-linejoin="miter" stroke-linecap="square" transform="translate(0.3,1.5)"/>
<path d="M801.8,605.9 L813.0,615.0" stroke="#9c9c9c" stroke-width="3.6" fill="none" stroke-linejoin="miter" stroke-linecap="square"/>
<path d="M792.6,612.5 L804.4,622.2" stroke="#727272" stroke-width="4.6" fill="none" stroke-linejoin="miter" stroke-linecap="square" transform="translate(0.3,1.5)"/>
<path d="M792.6,612.5 L804.4,622.2" stroke="#9c9c9c" stroke-width="3.6" fill="none" stroke-linejoin="miter" stroke-linecap="square"/>
<path d="M783.5,619.1 L794.7,628.8" stroke="#727272" stroke-width="4.6" fill="none" stroke-linejoin="miter" stroke-linecap="square" transform="translate(0.3,1.5)"/>
<path d="M783.5,619.1 L794.7,628.8" stroke="#9c9c9c" stroke-width="3.6" fill="none" stroke-linejoin="miter" stroke-linecap="square"/>
<path d="M777.9,623.2 L774.3,625.7 L784.0,634.4 L788.6,630.8" stroke="#727272" stroke-width="4.6" fill="none" stroke-linejoin="miter" stroke-linecap="square" transform="translate(0.3,1.5)"/>
<path d="M777.9,623.2 L774.3,625.7 L784.0,634.4 L788.6,630.8" stroke="#9c9c9c" stroke-width="3.6" fill="none" stroke-linejoin="miter" stroke-linecap="square"/>
<polygon points="836.1,602.8 888.5,565.1 937.4,605.8 884.5,643.0" fill="#e2e2e2" stroke="none" stroke-width="1" stroke-linejoin="round" />
<path d="M884.5,578.3 L892.6,572.2 L914.0,590.6" stroke="#727272" stroke-width="4.6" fill="none" stroke-linejoin="miter" stroke-linecap="square" transform="translate(0.3,1.5)"/>
<path d="M884.5,578.3 L892.6,572.2 L914.0,590.6" stroke="#9c9c9c" stroke-width="3.6" fill="none" stroke-linejoin="miter" stroke-linecap="square"/>
<path d="M873.3,585.5 L866.6,590.0 L887.5,609.4" stroke="#727272" stroke-width="4.6" fill="none" stroke-linejoin="miter" stroke-linecap="square" transform="translate(0.3,1.5)"/>
<path d="M873.3,585.5 L866.6,590.0 L887.5,609.4" stroke="#9c9c9c" stroke-width="3.6" fill="none" stroke-linejoin="miter" stroke-linecap="square"/>
<path d="M904.8,596.7 L891.1,585.5 L883.9,590.6 L897.2,601.8 L901.3,599.2" stroke="#727272" stroke-width="4.6" fill="none" stroke-linejoin="miter" stroke-linecap="square" transform="translate(0.3,1.5)"/>
<path d="M904.8,596.7 L891.1,585.5 L883.9,590.6 L897.2,601.8 L901.3,599.2" stroke="#9c9c9c" stroke-width="3.6" fill="none" stroke-linejoin="miter" stroke-linecap="square"/>
<path d="M860.5,600.2 L856.4,597.2 L846.8,604.3 L850.8,608.4" stroke="#727272" stroke-width="4.6" fill="none" stroke-linejoin="miter" stroke-linecap="square" transform="translate(0.3,1.5)"/>
<path d="M860.5,600.2 L856.4,597.2 L846.8,604.3 L850.8,608.4" stroke="#9c9c9c" stroke-width="3.6" fill="none" stroke-linejoin="miter" stroke-linecap="square"/>
<path d="M869.2,606.3 L878.3,614.5" stroke="#727272" stroke-width="4.6" fill="none" stroke-linejoin="miter" stroke-linecap="square" transform="translate(0.3,1.5)"/>
<path d="M869.2,606.3 L878.3,614.5" stroke="#9c9c9c" stroke-width="3.6" fill="none" stroke-linejoin="miter" stroke-linecap="square"/>
<path d="M858.5,613.0 L868.7,621.6" stroke="#727272" stroke-width="4.6" fill="none" stroke-linejoin="miter" stroke-linecap="square" transform="translate(0.3,1.5)"/>
<path d="M858.5,613.0 L868.7,621.6" stroke="#9c9c9c" stroke-width="3.6" fill="none" stroke-linejoin="miter" stroke-linecap="square"/>
<path d="M885.5,619.6 L889.5,622.6 L876.8,631.8" stroke="#727272" stroke-width="4.6" fill="none" stroke-linejoin="miter" stroke-linecap="square" transform="translate(0.3,1.5)"/>
<path d="M885.5,619.6 L889.5,622.6 L876.8,631.8" stroke="#9c9c9c" stroke-width="3.6" fill="none" stroke-linejoin="miter" stroke-linecap="square"/>
<path d="M894.6,613.5 L898.2,617.5 L907.4,611.4" stroke="#727272" stroke-width="4.6" fill="none" stroke-linejoin="miter" stroke-linecap="square" transform="translate(0.3,1.5)"/>
<path d="M894.6,613.5 L898.2,617.5 L907.4,611.4" stroke="#9c9c9c" stroke-width="3.6" fill="none" stroke-linejoin="miter" stroke-linecap="square"/>
<path d="M915.5,605.3 L924.7,599.2 L921.1,595.6" stroke="#727272" stroke-width="4.6" fill="none" stroke-linejoin="miter" stroke-linecap="square" transform="translate(0.3,1.5)"/>
<path d="M915.5,605.3 L924.7,599.2 L921.1,595.6" stroke="#9c9c9c" stroke-width="3.6" fill="none" stroke-linejoin="miter" stroke-linecap="square"/>
<text x="780.3" y="652" font-size="18" fill="#1a1a1a" text-anchor="middle" dominant-baseline="central">平面布局+高差布局</text>
<rect x="632.9" y="720.5" width="16" height="11" fill="#cfcfcf"/>
<rect x="631.6" y="719.2" width="16" height="11" fill="#fff" stroke="#e2e2e2" stroke-width="0.6"/>
<rect x="632.9" y="733.8" width="16" height="11" fill="#cfcfcf"/>
<rect x="631.6" y="732.5" width="16" height="11" fill="#fff" stroke="#e2e2e2" stroke-width="0.6"/>
<rect x="632.9" y="747.5999999999999" width="16" height="11" fill="#cfcfcf"/>
<rect x="631.6" y="746.3" width="16" height="11" fill="#fff" stroke="#e2e2e2" stroke-width="0.6"/>
<rect x="632.9" y="761.1999999999999" width="16" height="11" fill="#cfcfcf"/>
<rect x="631.6" y="759.9" width="16" height="11" fill="#fff" stroke="#e2e2e2" stroke-width="0.6"/>
<rect x="632.9" y="775.0" width="16" height="11" fill="#cfcfcf"/>
<rect x="631.6" y="773.7" width="16" height="11" fill="#fff" stroke="#e2e2e2" stroke-width="0.6"/>
<rect x="632.9" y="788.5999999999999" width="16" height="11" fill="#cfcfcf"/>
<rect x="631.6" y="787.3" width="16" height="11" fill="#fff" stroke="#e2e2e2" stroke-width="0.6"/>
<rect x="632.9" y="802.0" width="16" height="11" fill="#cfcfcf"/>
<rect x="631.6" y="800.7" width="16" height="11" fill="#fff" stroke="#e2e2e2" stroke-width="0.6"/>
<rect x="652.9" y="720.5" width="16" height="11" fill="#cfcfcf"/>
<rect x="651.6" y="719.2" width="16" height="11" fill="#fff" stroke="#e2e2e2" stroke-width="0.6"/>
<rect x="652.9" y="733.8" width="16" height="11" fill="#cfcfcf"/>
<rect x="651.6" y="732.5" width="16" height="11" fill="#fff" stroke="#e2e2e2" stroke-width="0.6"/>
<rect x="652.9" y="747.5999999999999" width="16" height="11" fill="#cfcfcf"/>
<rect x="651.6" y="746.3" width="16" height="11" fill="#fff" stroke="#e2e2e2" stroke-width="0.6"/>
<rect x="652.7" y="747.4" width="13.8" height="8.8" fill="none" stroke="#b4d99e" stroke-width="2.0"/>
<rect x="652.9" y="761.1999999999999" width="16" height="11" fill="#cfcfcf"/>
<rect x="651.6" y="759.9" width="16" height="11" fill="#fff" stroke="#e2e2e2" stroke-width="0.6"/>
<rect x="652.7" y="761.0" width="13.8" height="8.8" fill="none" stroke="#b4d99e" stroke-width="2.0"/>
<rect x="652.9" y="775.0" width="16" height="11" fill="#cfcfcf"/>
<rect x="651.6" y="773.7" width="16" height="11" fill="#fff" stroke="#e2e2e2" stroke-width="0.6"/>
<rect x="652.7" y="774.8000000000001" width="13.8" height="8.8" fill="none" stroke="#b4d99e" stroke-width="2.0"/>
<rect x="652.9" y="788.5999999999999" width="16" height="11" fill="#cfcfcf"/>
<rect x="651.6" y="787.3" width="16" height="11" fill="#fff" stroke="#e2e2e2" stroke-width="0.6"/>
<rect x="652.7" y="788.4" width="13.8" height="8.8" fill="none" stroke="#b4d99e" stroke-width="2.0"/>
<rect x="652.9" y="802.0" width="16" height="11" fill="#cfcfcf"/>
<rect x="651.6" y="800.7" width="16" height="11" fill="#fff" stroke="#e2e2e2" stroke-width="0.6"/>
<rect x="672.4" y="720.5" width="16" height="11" fill="#cfcfcf"/>
<rect x="671.1" y="719.2" width="16" height="11" fill="#fff" stroke="#e2e2e2" stroke-width="0.6"/>
<rect x="672.4" y="733.8" width="16" height="11" fill="#cfcfcf"/>
<rect x="671.1" y="732.5" width="16" height="11" fill="#fff" stroke="#e2e2e2" stroke-width="0.6"/>
<rect x="672.4" y="747.5999999999999" width="16" height="11" fill="#cfcfcf"/>
<rect x="671.1" y="746.3" width="16" height="11" fill="#fff" stroke="#e2e2e2" stroke-width="0.6"/>
<rect x="672.2" y="747.4" width="13.8" height="8.8" fill="none" stroke="#b4d99e" stroke-width="2.0"/>
<rect x="672.4" y="761.1999999999999" width="16" height="11" fill="#cfcfcf"/>
<rect x="671.1" y="759.9" width="16" height="11" fill="#fff" stroke="#e2e2e2" stroke-width="0.6"/>
<rect x="672.2" y="761.0" width="13.8" height="8.8" fill="none" stroke="#b4d99e" stroke-width="2.0"/>
<rect x="672.4" y="775.0" width="16" height="11" fill="#cfcfcf"/>
<rect x="671.1" y="773.7" width="16" height="11" fill="#fff" stroke="#e2e2e2" stroke-width="0.6"/>
<rect x="672.2" y="774.8000000000001" width="13.8" height="8.8" fill="none" stroke="#b4d99e" stroke-width="2.0"/>
<rect x="672.4" y="788.5999999999999" width="16" height="11" fill="#cfcfcf"/>
<rect x="671.1" y="787.3" width="16" height="11" fill="#fff" stroke="#e2e2e2" stroke-width="0.6"/>
<rect x="672.2" y="788.4" width="13.8" height="8.8" fill="none" stroke="#b4d99e" stroke-width="2.0"/>
<rect x="672.4" y="802.0" width="16" height="11" fill="#cfcfcf"/>
<rect x="671.1" y="800.7" width="16" height="11" fill="#fff" stroke="#e2e2e2" stroke-width="0.6"/>
<rect x="690.9" y="720.5" width="16" height="11" fill="#cfcfcf"/>
<rect x="689.6" y="719.2" width="16" height="11" fill="#fff" stroke="#e2e2e2" stroke-width="0.6"/>
<rect x="690.9" y="733.8" width="16" height="11" fill="#cfcfcf"/>
<rect x="689.6" y="732.5" width="16" height="11" fill="#fff" stroke="#e2e2e2" stroke-width="0.6"/>
<rect x="690.9" y="747.5999999999999" width="16" height="11" fill="#cfcfcf"/>
<rect x="689.6" y="746.3" width="16" height="11" fill="#fff" stroke="#e2e2e2" stroke-width="0.6"/>
<rect x="690.7" y="747.4" width="13.8" height="8.8" fill="none" stroke="#b4d99e" stroke-width="2.0"/>
<rect x="690.9" y="761.1999999999999" width="16" height="11" fill="#cfcfcf"/>
<rect x="689.6" y="759.9" width="16" height="11" fill="#fff" stroke="#e2e2e2" stroke-width="0.6"/>
<rect x="690.7" y="761.0" width="13.8" height="8.8" fill="none" stroke="#b4d99e" stroke-width="2.0"/>
<rect x="690.9" y="775.0" width="16" height="11" fill="#cfcfcf"/>
<rect x="689.6" y="773.7" width="16" height="11" fill="#fff" stroke="#e2e2e2" stroke-width="0.6"/>
<rect x="690.7" y="774.8000000000001" width="13.8" height="8.8" fill="none" stroke="#b4d99e" stroke-width="2.0"/>
<rect x="690.9" y="788.5999999999999" width="16" height="11" fill="#cfcfcf"/>
<rect x="689.6" y="787.3" width="16" height="11" fill="#fff" stroke="#e2e2e2" stroke-width="0.6"/>
<rect x="690.7" y="788.4" width="13.8" height="8.8" fill="none" stroke="#b4d99e" stroke-width="2.0"/>
<rect x="690.9" y="802.0" width="16" height="11" fill="#cfcfcf"/>
<rect x="689.6" y="800.7" width="16" height="11" fill="#fff" stroke="#e2e2e2" stroke-width="0.6"/>
<rect x="710.9" y="720.5" width="16" height="11" fill="#cfcfcf"/>
<rect x="709.6" y="719.2" width="16" height="11" fill="#fff" stroke="#e2e2e2" stroke-width="0.6"/>
<rect x="710.9" y="733.8" width="16" height="11" fill="#cfcfcf"/>
<rect x="709.6" y="732.5" width="16" height="11" fill="#fff" stroke="#e2e2e2" stroke-width="0.6"/>
<rect x="710.9" y="747.5999999999999" width="16" height="11" fill="#cfcfcf"/>
<rect x="709.6" y="746.3" width="16" height="11" fill="#fff" stroke="#e2e2e2" stroke-width="0.6"/>
<rect x="710.7" y="747.4" width="13.8" height="8.8" fill="none" stroke="#b4d99e" stroke-width="2.0"/>
<rect x="710.9" y="761.1999999999999" width="16" height="11" fill="#cfcfcf"/>
<rect x="709.6" y="759.9" width="16" height="11" fill="#fff" stroke="#e2e2e2" stroke-width="0.6"/>
<rect x="710.7" y="761.0" width="13.8" height="8.8" fill="none" stroke="#b4d99e" stroke-width="2.0"/>
<rect x="710.9" y="775.0" width="16" height="11" fill="#cfcfcf"/>
<rect x="709.6" y="773.7" width="16" height="11" fill="#fff" stroke="#e2e2e2" stroke-width="0.6"/>
<rect x="710.7" y="774.8000000000001" width="13.8" height="8.8" fill="none" stroke="#b4d99e" stroke-width="2.0"/>
<rect x="710.9" y="788.5999999999999" width="16" height="11" fill="#cfcfcf"/>
<rect x="709.6" y="787.3" width="16" height="11" fill="#fff" stroke="#e2e2e2" stroke-width="0.6"/>
<rect x="710.7" y="788.4" width="13.8" height="8.8" fill="none" stroke="#b4d99e" stroke-width="2.0"/>
<rect x="710.9" y="802.0" width="16" height="11" fill="#cfcfcf"/>
<rect x="709.6" y="800.7" width="16" height="11" fill="#fff" stroke="#e2e2e2" stroke-width="0.6"/>
<rect x="729.4" y="720.5" width="16" height="11" fill="#cfcfcf"/>
<rect x="728.1" y="719.2" width="16" height="11" fill="#fff" stroke="#e2e2e2" stroke-width="0.6"/>
<rect x="729.4" y="733.8" width="16" height="11" fill="#cfcfcf"/>
<rect x="728.1" y="732.5" width="16" height="11" fill="#fff" stroke="#e2e2e2" stroke-width="0.6"/>
<rect x="729.4" y="747.5999999999999" width="16" height="11" fill="#cfcfcf"/>
<rect x="728.1" y="746.3" width="16" height="11" fill="#fff" stroke="#e2e2e2" stroke-width="0.6"/>
<rect x="729.4" y="761.1999999999999" width="16" height="11" fill="#cfcfcf"/>
<rect x="728.1" y="759.9" width="16" height="11" fill="#fff" stroke="#e2e2e2" stroke-width="0.6"/>
<rect x="729.4" y="775.0" width="16" height="11" fill="#cfcfcf"/>
<rect x="728.1" y="773.7" width="16" height="11" fill="#fff" stroke="#e2e2e2" stroke-width="0.6"/>
<rect x="729.4" y="788.5999999999999" width="16" height="11" fill="#cfcfcf"/>
<rect x="728.1" y="787.3" width="16" height="11" fill="#fff" stroke="#e2e2e2" stroke-width="0.6"/>
<rect x="729.4" y="802.0" width="16" height="11" fill="#cfcfcf"/>
<rect x="728.1" y="800.7" width="16" height="11" fill="#fff" stroke="#e2e2e2" stroke-width="0.6"/>
<rect x="748.6999999999999" y="720.5" width="16" height="11" fill="#cfcfcf"/>
<rect x="747.4" y="719.2" width="16" height="11" fill="#fff" stroke="#e2e2e2" stroke-width="0.6"/>
<rect x="748.6999999999999" y="733.8" width="16" height="11" fill="#cfcfcf"/>
<rect x="747.4" y="732.5" width="16" height="11" fill="#fff" stroke="#e2e2e2" stroke-width="0.6"/>
<rect x="748.6999999999999" y="747.5999999999999" width="16" height="11" fill="#cfcfcf"/>
<rect x="747.4" y="746.3" width="16" height="11" fill="#fff" stroke="#e2e2e2" stroke-width="0.6"/>
<rect x="748.6999999999999" y="761.1999999999999" width="16" height="11" fill="#cfcfcf"/>
<rect x="747.4" y="759.9" width="16" height="11" fill="#fff" stroke="#e2e2e2" stroke-width="0.6"/>
<rect x="748.6999999999999" y="775.0" width="16" height="11" fill="#cfcfcf"/>
<rect x="747.4" y="773.7" width="16" height="11" fill="#fff" stroke="#e2e2e2" stroke-width="0.6"/>
<rect x="748.6999999999999" y="788.5999999999999" width="16" height="11" fill="#cfcfcf"/>
<rect x="747.4" y="787.3" width="16" height="11" fill="#fff" stroke="#e2e2e2" stroke-width="0.6"/>
<rect x="748.6999999999999" y="802.0" width="16" height="11" fill="#cfcfcf"/>
<rect x="747.4" y="800.7" width="16" height="11" fill="#fff" stroke="#e2e2e2" stroke-width="0.6"/>
<rect x="631.1" y="754.6" width="132.8" height="6.2" fill="#b4d99e"/>
<rect x="631.1" y="768.6" width="132.8" height="5.8" fill="#b4d99e"/>
<rect x="665" y="746" width="7.5" height="67" fill="#b4d99e"/>
<rect x="702.5" y="719" width="8.5" height="94" fill="#b4d99e"/>
<line x1="668.9" y1="713.8" x2="668.9" y2="816.6" stroke="#8ed3ad" stroke-width="2.3"/><path d="M665.5,813.0 L668.9,816.6 L672.3,813.0" stroke="#8ed3ad" stroke-width="1.4" fill="none"/><path d="M665.5,717.4 L668.9,713.8 L672.3,717.4" stroke="#8ed3ad" stroke-width="1.4" fill="none"/>
<line x1="706.7" y1="713.8" x2="706.7" y2="816.6" stroke="#8ed3ad" stroke-width="2.3"/><path d="M703.3,813.0 L706.7,816.6 L710.1,813.0" stroke="#8ed3ad" stroke-width="1.4" fill="none"/><path d="M703.3,717.4 L706.7,713.8 L710.1,717.4" stroke="#8ed3ad" stroke-width="1.4" fill="none"/>
<line x1="623.7" y1="745.1" x2="771.9" y2="745.1" stroke="#8ed3ad" stroke-width="1.2"/><path d="M768.3,748.5 L771.9,745.1 L768.3,741.7" stroke="#8ed3ad" stroke-width="1.4" fill="none"/><path d="M627.3,748.5 L623.7,745.1 L627.3,741.7" stroke="#8ed3ad" stroke-width="1.4" fill="none"/>
<line x1="623.7" y1="758.1" x2="771.9" y2="758.1" stroke="#8ed3ad" stroke-width="2.4"/><path d="M768.3,761.5 L771.9,758.1 L768.3,754.7" stroke="#8ed3ad" stroke-width="1.4" fill="none"/><path d="M627.3,761.5 L623.7,758.1 L627.3,754.7" stroke="#8ed3ad" stroke-width="1.4" fill="none"/>
<line x1="623.7" y1="772.2" x2="771.9" y2="772.2" stroke="#8ed3ad" stroke-width="2.4"/><path d="M768.3,775.6 L771.9,772.2 L768.3,768.8" stroke="#8ed3ad" stroke-width="1.4" fill="none"/><path d="M627.3,775.6 L623.7,772.2 L627.3,768.8" stroke="#8ed3ad" stroke-width="1.4" fill="none"/>
<line x1="623.7" y1="786.3" x2="771.9" y2="786.3" stroke="#8ed3ad" stroke-width="1.2"/><path d="M768.3,789.7 L771.9,786.3 L768.3,782.9" stroke="#8ed3ad" stroke-width="1.4" fill="none"/><path d="M627.3,789.7 L623.7,786.3 L627.3,782.9" stroke="#8ed3ad" stroke-width="1.4" fill="none"/>
<rect x="689.6" y="759.6" width="34.8" height="11.4" fill="#a9d18e" stroke="#7ab55c" stroke-width="0.8"/>
<rect x="659.3" y="738.6" width="8.1" height="5.2" fill="#a9d18e" stroke="#7ab55c" stroke-width="0.7"/>
<rect x="698.2" y="751.9" width="7.4" height="5.2" fill="#a9d18e" stroke="#7ab55c" stroke-width="0.7"/>
<rect x="708.9" y="751.9" width="7.7" height="5.2" fill="#a9d18e" stroke="#7ab55c" stroke-width="0.7"/>
<rect x="708.9" y="773.7" width="8.1" height="4.7" fill="#a9d18e" stroke="#7ab55c" stroke-width="0.7"/>
<rect x="670.4" y="787" width="8.1" height="5.2" fill="#a9d18e" stroke="#7ab55c" stroke-width="0.7"/>
<rect x="792.0" y="720.5" width="16" height="11" fill="#cfcfcf"/>
<rect x="790.7" y="719.2" width="16" height="11" fill="#fff" stroke="#e2e2e2" stroke-width="0.6"/>
<rect x="792.0" y="733.8" width="16" height="11" fill="#cfcfcf"/>
<rect x="790.7" y="732.5" width="16" height="11" fill="#fff" stroke="#e2e2e2" stroke-width="0.6"/>
<rect x="792.0" y="747.5999999999999" width="16" height="11" fill="#cfcfcf"/>
<rect x="790.7" y="746.3" width="16" height="11" fill="#fff" stroke="#e2e2e2" stroke-width="0.6"/>
<rect x="792.0" y="761.1999999999999" width="16" height="11" fill="#cfcfcf"/>
<rect x="790.7" y="759.9" width="16" height="11" fill="#fff" stroke="#e2e2e2" stroke-width="0.6"/>
<rect x="792.0" y="775.0" width="16" height="11" fill="#cfcfcf"/>
<rect x="790.7" y="773.7" width="16" height="11" fill="#fff" stroke="#e2e2e2" stroke-width="0.6"/>
<rect x="792.0" y="788.5999999999999" width="16" height="11" fill="#cfcfcf"/>
<rect x="790.7" y="787.3" width="16" height="11" fill="#fff" stroke="#e2e2e2" stroke-width="0.6"/>
<rect x="792.0" y="802.0" width="16" height="11" fill="#cfcfcf"/>
<rect x="790.7" y="800.7" width="16" height="11" fill="#fff" stroke="#e2e2e2" stroke-width="0.6"/>
<rect x="810.9" y="720.5" width="16" height="11" fill="#cfcfcf"/>
<rect x="809.6" y="719.2" width="16" height="11" fill="#fff" stroke="#e2e2e2" stroke-width="0.6"/>
<rect x="810.9" y="733.8" width="16" height="11" fill="#cfcfcf"/>
<rect x="809.6" y="732.5" width="16" height="11" fill="#fff" stroke="#e2e2e2" stroke-width="0.6"/>
<rect x="810.9" y="747.5999999999999" width="16" height="11" fill="#cfcfcf"/>
<rect x="809.6" y="746.3" width="16" height="11" fill="#fff" stroke="#e2e2e2" stroke-width="0.6"/>
<rect x="810.9" y="761.1999999999999" width="16" height="11" fill="#cfcfcf"/>
<rect x="809.6" y="759.9" width="16" height="11" fill="#fff" stroke="#e2e2e2" stroke-width="0.6"/>
<rect x="810.9" y="775.0" width="16" height="11" fill="#cfcfcf"/>
<rect x="809.6" y="773.7" width="16" height="11" fill="#fff" stroke="#e2e2e2" stroke-width="0.6"/>
<rect x="810.9" y="788.5999999999999" width="16" height="11" fill="#cfcfcf"/>
<rect x="809.6" y="787.3" width="16" height="11" fill="#fff" stroke="#e2e2e2" stroke-width="0.6"/>
<rect x="810.9" y="802.0" width="16" height="11" fill="#cfcfcf"/>
<rect x="809.6" y="800.7" width="16" height="11" fill="#fff" stroke="#e2e2e2" stroke-width="0.6"/>
<rect x="830.1999999999999" y="720.5" width="16" height="11" fill="#cfcfcf"/>
<rect x="828.9" y="719.2" width="16" height="11" fill="#fff" stroke="#e2e2e2" stroke-width="0.6"/>
<rect x="830.1999999999999" y="733.8" width="16" height="11" fill="#cfcfcf"/>
<rect x="828.9" y="732.5" width="16" height="11" fill="#fff" stroke="#e2e2e2" stroke-width="0.6"/>
<rect x="830.1999999999999" y="747.5999999999999" width="16" height="11" fill="#cfcfcf"/>
<rect x="828.9" y="746.3" width="16" height="11" fill="#fff" stroke="#e2e2e2" stroke-width="0.6"/>
<rect x="830.1999999999999" y="761.1999999999999" width="16" height="11" fill="#cfcfcf"/>
<rect x="828.9" y="759.9" width="16" height="11" fill="#fff" stroke="#e2e2e2" stroke-width="0.6"/>
<rect x="830.1999999999999" y="775.0" width="16" height="11" fill="#cfcfcf"/>
<rect x="828.9" y="773.7" width="16" height="11" fill="#fff" stroke="#e2e2e2" stroke-width="0.6"/>
<rect x="830.1999999999999" y="788.5999999999999" width="16" height="11" fill="#cfcfcf"/>
<rect x="828.9" y="787.3" width="16" height="11" fill="#fff" stroke="#e2e2e2" stroke-width="0.6"/>
<rect x="830.1999999999999" y="802.0" width="16" height="11" fill="#cfcfcf"/>
<rect x="828.9" y="800.7" width="16" height="11" fill="#fff" stroke="#e2e2e2" stroke-width="0.6"/>
<rect x="849.4" y="720.5" width="16" height="11" fill="#cfcfcf"/>
<rect x="848.1" y="719.2" width="16" height="11" fill="#fff" stroke="#e2e2e2" stroke-width="0.6"/>
<rect x="849.4" y="733.8" width="16" height="11" fill="#cfcfcf"/>
<rect x="848.1" y="732.5" width="16" height="11" fill="#fff" stroke="#e2e2e2" stroke-width="0.6"/>
<rect x="849.4" y="747.5999999999999" width="16" height="11" fill="#cfcfcf"/>
<rect x="848.1" y="746.3" width="16" height="11" fill="#fff" stroke="#e2e2e2" stroke-width="0.6"/>
<rect x="849.4" y="761.1999999999999" width="16" height="11" fill="#cfcfcf"/>
<rect x="848.1" y="759.9" width="16" height="11" fill="#fff" stroke="#e2e2e2" stroke-width="0.6"/>
<rect x="849.4" y="775.0" width="16" height="11" fill="#cfcfcf"/>
<rect x="848.1" y="773.7" width="16" height="11" fill="#fff" stroke="#e2e2e2" stroke-width="0.6"/>
<rect x="849.4" y="788.5999999999999" width="16" height="11" fill="#cfcfcf"/>
<rect x="848.1" y="787.3" width="16" height="11" fill="#fff" stroke="#e2e2e2" stroke-width="0.6"/>
<rect x="849.4" y="802.0" width="16" height="11" fill="#cfcfcf"/>
<rect x="848.1" y="800.7" width="16" height="11" fill="#fff" stroke="#e2e2e2" stroke-width="0.6"/>
<rect x="868.6999999999999" y="720.5" width="16" height="11" fill="#cfcfcf"/>
<rect x="867.4" y="719.2" width="16" height="11" fill="#fff" stroke="#e2e2e2" stroke-width="0.6"/>
<rect x="868.6999999999999" y="733.8" width="16" height="11" fill="#cfcfcf"/>
<rect x="867.4" y="732.5" width="16" height="11" fill="#fff" stroke="#e2e2e2" stroke-width="0.6"/>
<rect x="868.6999999999999" y="747.5999999999999" width="16" height="11" fill="#cfcfcf"/>
<rect x="867.4" y="746.3" width="16" height="11" fill="#fff" stroke="#e2e2e2" stroke-width="0.6"/>
<rect x="868.6999999999999" y="761.1999999999999" width="16" height="11" fill="#cfcfcf"/>
<rect x="867.4" y="759.9" width="16" height="11" fill="#fff" stroke="#e2e2e2" stroke-width="0.6"/>
<rect x="868.6999999999999" y="775.0" width="16" height="11" fill="#cfcfcf"/>
<rect x="867.4" y="773.7" width="16" height="11" fill="#fff" stroke="#e2e2e2" stroke-width="0.6"/>
<rect x="868.6999999999999" y="788.5999999999999" width="16" height="11" fill="#cfcfcf"/>
<rect x="867.4" y="787.3" width="16" height="11" fill="#fff" stroke="#e2e2e2" stroke-width="0.6"/>
<rect x="868.6999999999999" y="802.0" width="16" height="11" fill="#cfcfcf"/>
<rect x="867.4" y="800.7" width="16" height="11" fill="#fff" stroke="#e2e2e2" stroke-width="0.6"/>
<rect x="887.6999999999999" y="720.5" width="16" height="11" fill="#cfcfcf"/>
<rect x="886.4" y="719.2" width="16" height="11" fill="#fff" stroke="#e2e2e2" stroke-width="0.6"/>
<rect x="887.6999999999999" y="733.8" width="16" height="11" fill="#cfcfcf"/>
<rect x="886.4" y="732.5" width="16" height="11" fill="#fff" stroke="#e2e2e2" stroke-width="0.6"/>
<rect x="887.6999999999999" y="747.5999999999999" width="16" height="11" fill="#cfcfcf"/>
<rect x="886.4" y="746.3" width="16" height="11" fill="#fff" stroke="#e2e2e2" stroke-width="0.6"/>
<rect x="887.6999999999999" y="761.1999999999999" width="16" height="11" fill="#cfcfcf"/>
<rect x="886.4" y="759.9" width="16" height="11" fill="#fff" stroke="#e2e2e2" stroke-width="0.6"/>
<rect x="887.6999999999999" y="775.0" width="16" height="11" fill="#cfcfcf"/>
<rect x="886.4" y="773.7" width="16" height="11" fill="#fff" stroke="#e2e2e2" stroke-width="0.6"/>
<rect x="887.6999999999999" y="788.5999999999999" width="16" height="11" fill="#cfcfcf"/>
<rect x="886.4" y="787.3" width="16" height="11" fill="#fff" stroke="#e2e2e2" stroke-width="0.6"/>
<rect x="887.6999999999999" y="802.0" width="16" height="11" fill="#cfcfcf"/>
<rect x="886.4" y="800.7" width="16" height="11" fill="#fff" stroke="#e2e2e2" stroke-width="0.6"/>
<rect x="906.9" y="720.5" width="16" height="11" fill="#cfcfcf"/>
<rect x="905.6" y="719.2" width="16" height="11" fill="#fff" stroke="#e2e2e2" stroke-width="0.6"/>
<rect x="906.9" y="733.8" width="16" height="11" fill="#cfcfcf"/>
<rect x="905.6" y="732.5" width="16" height="11" fill="#fff" stroke="#e2e2e2" stroke-width="0.6"/>
<rect x="906.9" y="747.5999999999999" width="16" height="11" fill="#cfcfcf"/>
<rect x="905.6" y="746.3" width="16" height="11" fill="#fff" stroke="#e2e2e2" stroke-width="0.6"/>
<rect x="906.9" y="761.1999999999999" width="16" height="11" fill="#cfcfcf"/>
<rect x="905.6" y="759.9" width="16" height="11" fill="#fff" stroke="#e2e2e2" stroke-width="0.6"/>
<rect x="906.9" y="775.0" width="16" height="11" fill="#cfcfcf"/>
<rect x="905.6" y="773.7" width="16" height="11" fill="#fff" stroke="#e2e2e2" stroke-width="0.6"/>
<rect x="906.9" y="788.5999999999999" width="16" height="11" fill="#cfcfcf"/>
<rect x="905.6" y="787.3" width="16" height="11" fill="#fff" stroke="#e2e2e2" stroke-width="0.6"/>
<rect x="906.9" y="802.0" width="16" height="11" fill="#cfcfcf"/>
<rect x="905.6" y="800.7" width="16" height="11" fill="#fff" stroke="#e2e2e2" stroke-width="0.6"/>
<rect x="790.2" y="754.6" width="131.9" height="6.2" fill="#b4d99e"/>
<rect x="790.2" y="768.6" width="131.9" height="5.8" fill="#b4d99e"/>
<rect x="796" y="723.1999999999999" width="5" height="3.4" fill="#b0d99b"/><line x1="801" y1="724.8" x2="806" y2="724.8" stroke="#b0d99b" stroke-width="1"/>
<rect x="815.5" y="723.1999999999999" width="5" height="3.4" fill="#b0d99b"/><line x1="820.5" y1="724.8" x2="825.5" y2="724.8" stroke="#b0d99b" stroke-width="1"/>
<rect x="892" y="723.1999999999999" width="5" height="3.4" fill="#b0d99b"/><line x1="897" y1="724.8" x2="902" y2="724.8" stroke="#b0d99b" stroke-width="1"/>
<rect x="874" y="736.4" width="5" height="3.4" fill="#b0d99b"/><line x1="879" y1="738" x2="884" y2="738" stroke="#b0d99b" stroke-width="1"/>
<rect x="835" y="749.4" width="5" height="3.4" fill="#b0d99b"/><line x1="840" y1="751" x2="845" y2="751" stroke="#b0d99b" stroke-width="1"/>
<rect x="815.5" y="790.6999999999999" width="5" height="3.4" fill="#b0d99b"/><line x1="820.5" y1="792.3" x2="825.5" y2="792.3" stroke="#b0d99b" stroke-width="1"/>
<rect x="873.5" y="790.6999999999999" width="5" height="3.4" fill="#b0d99b"/><line x1="878.5" y1="792.3" x2="883.5" y2="792.3" stroke="#b0d99b" stroke-width="1"/>
<rect x="815.5" y="804.4" width="5" height="3.4" fill="#b0d99b"/><line x1="820.5" y1="806" x2="825.5" y2="806" stroke="#b0d99b" stroke-width="1"/>
<rect x="853.5" y="804.4" width="5" height="3.4" fill="#b0d99b"/><line x1="858.5" y1="806" x2="863.5" y2="806" stroke="#b0d99b" stroke-width="1"/>
<rect x="874" y="804.4" width="5" height="3.4" fill="#b0d99b"/><line x1="879" y1="806" x2="884" y2="806" stroke="#b0d99b" stroke-width="1"/>
<rect x="892" y="804.4" width="5" height="3.4" fill="#b0d99b"/><line x1="897" y1="806" x2="902" y2="806" stroke="#b0d99b" stroke-width="1"/>
<line x1="827.1" y1="713.8" x2="827.1" y2="816.6" stroke="#8ed3ad" stroke-width="2.3"/><path d="M823.7,813.0 L827.1,816.6 L830.5,813.0" stroke="#8ed3ad" stroke-width="1.4" fill="none"/><path d="M823.7,717.4 L827.1,713.8 L830.5,717.4" stroke="#8ed3ad" stroke-width="1.4" fill="none"/>
<line x1="865.6" y1="713.8" x2="865.6" y2="816.6" stroke="#8ed3ad" stroke-width="2.3"/><path d="M862.2,813.0 L865.6,816.6 L869.0,813.0" stroke="#8ed3ad" stroke-width="1.4" fill="none"/><path d="M862.2,717.4 L865.6,713.8 L869.0,717.4" stroke="#8ed3ad" stroke-width="1.4" fill="none"/>
<line x1="885.2" y1="713.8" x2="885.2" y2="816.6" stroke="#8ed3ad" stroke-width="2.3"/><path d="M881.8,813.0 L885.2,816.6 L888.6,813.0" stroke="#8ed3ad" stroke-width="1.4" fill="none"/><path d="M881.8,717.4 L885.2,713.8 L888.6,717.4" stroke="#8ed3ad" stroke-width="1.4" fill="none"/>
<line x1="782.2" y1="745.1" x2="930.4" y2="745.1" stroke="#8ed3ad" stroke-width="1.2"/><path d="M926.8,748.5 L930.4,745.1 L926.8,741.7" stroke="#8ed3ad" stroke-width="1.4" fill="none"/><path d="M785.8,748.5 L782.2,745.1 L785.8,741.7" stroke="#8ed3ad" stroke-width="1.4" fill="none"/>
<line x1="782.2" y1="758.1" x2="930.4" y2="758.1" stroke="#8ed3ad" stroke-width="2.4"/><path d="M926.8,761.5 L930.4,758.1 L926.8,754.7" stroke="#8ed3ad" stroke-width="1.4" fill="none"/><path d="M785.8,761.5 L782.2,758.1 L785.8,754.7" stroke="#8ed3ad" stroke-width="1.4" fill="none"/>
<line x1="782.2" y1="772.2" x2="930.4" y2="772.2" stroke="#8ed3ad" stroke-width="2.4"/><path d="M926.8,775.6 L930.4,772.2 L926.8,768.8" stroke="#8ed3ad" stroke-width="1.4" fill="none"/><path d="M785.8,775.6 L782.2,772.2 L785.8,768.8" stroke="#8ed3ad" stroke-width="1.4" fill="none"/>
<line x1="782.2" y1="786.3" x2="930.4" y2="786.3" stroke="#8ed3ad" stroke-width="1.2"/><path d="M926.8,789.7 L930.4,786.3 L926.8,782.9" stroke="#8ed3ad" stroke-width="1.4" fill="none"/><path d="M785.8,789.7 L782.2,786.3 L785.8,782.9" stroke="#8ed3ad" stroke-width="1.4" fill="none"/>
<rect x="848.1" y="759.3" width="35.6" height="11.4" fill="#a9d18e" stroke="#7ab55c" stroke-width="0.8"/>
<rect x="816.5" y="738.5" width="8.5" height="5.3" fill="#a9d18e" stroke="#7ab55c" stroke-width="0.7"/>
<rect x="875.2" y="751.5" width="8.3" height="5.5" fill="#a9d18e" stroke="#7ab55c" stroke-width="0.7"/>
<rect x="875.2" y="773.5" width="8.3" height="5.5" fill="#a9d18e" stroke="#7ab55c" stroke-width="0.7"/>
<rect x="829.4" y="787.2" width="8" height="5" fill="#a9d18e" stroke="#7ab55c" stroke-width="0.7"/>
</svg></body></html>
